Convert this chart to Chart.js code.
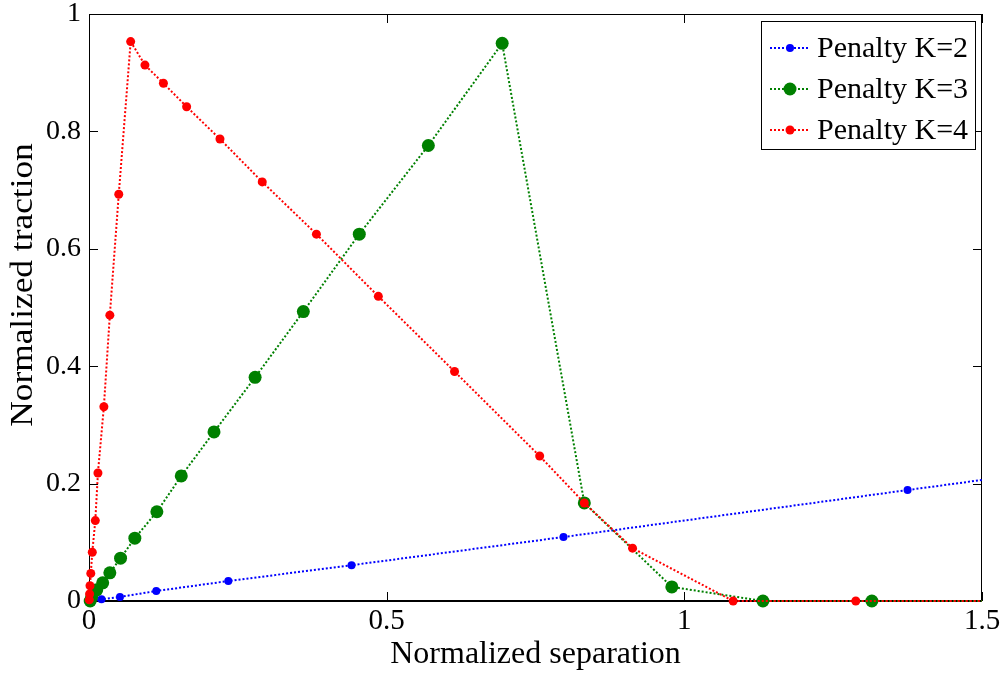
<!DOCTYPE html>
<html>
<head>
<meta charset="utf-8">
<script src="https://cdn.jsdelivr.net/npm/chart.js@4.4.1/dist/chart.umd.min.js"></script>
<style>
  html, body { margin: 0; padding: 0; background: #fff; }
  #wrap { width: 1005px; height: 674px; position: relative; }
</style>
</head>
<body>
<div id="wrap"><canvas id="c"></canvas></div>
<script>
// ---- Data ----
const seriesNames = ["Penalty K=2", "Penalty K=3", "Penalty K=4"];

const k2X = [0.005, 0.021, 0.052, 0.113, 0.234, 0.441, 0.797, 1.375, 2.3];
const k2Y = [0.001, 0.003, 0.007, 0.017, 0.034, 0.061, 0.109, 0.189, 0.316];

const k3X = [0.002, 0.0045, 0.013, 0.023, 0.035, 0.053, 0.077, 0.114, 0.155, 0.210, 0.279, 0.360, 0.454, 0.570, 0.694, 0.832, 0.979, 1.132, 1.315, 1.6];
const k3Y = [0.000, 0.007, 0.019, 0.031, 0.048, 0.073, 0.107, 0.152, 0.213, 0.288, 0.381, 0.493, 0.625, 0.776, 0.950, 0.167, 0.024, 0.000, 0.000, 0.000];

const k4X = [0.0005, 0.001, 0.0017, 0.003, 0.0055, 0.0106, 0.015, 0.025, 0.035, 0.050, 0.070, 0.094, 0.125, 0.164, 0.220, 0.291, 0.382, 0.486, 0.614, 0.757, 0.832, 0.913, 1.082, 1.288, 1.6];
const k4Y = [0.002, 0.012, 0.026, 0.047, 0.083, 0.137, 0.218, 0.331, 0.487, 0.693, 0.953, 0.913, 0.882, 0.842, 0.787, 0.714, 0.625, 0.519, 0.391, 0.247, 0.167, 0.090, 0.000, 0.000, 0.000];

const xTicks = [0, 0.5, 1, 1.5];
const yTicks = [0, 0.2, 0.4, 0.6, 0.8, 1];
const xTickLabels = ["0", "0.5", "1", "1.5"];
const yTickLabels = ["0", "0.2", "0.4", "0.6", "0.8", "1"];

const xTitle = "Normalized separation";
const yTitle = "Normalized traction";

// ---- Styles ----
const FONT = "'Liberation Serif', 'Times New Roman', serif";
const colors = ["#0000ff", "#008000", "#ff0000"];
const radii = [4, 6.5, 4.5];

function pts(xs, ys) { return xs.map((x, i) => ({ x: x, y: ys[i] })); }

const allX = [k2X, k3X, k4X];
const allY = [k2Y, k3Y, k4Y];

const datasets = seriesNames.map((name, i) => ({
  label: name,
  data: pts(allX[i], allY[i]),
  borderColor: colors[i],
  backgroundColor: colors[i],
  pointBackgroundColor: colors[i],
  pointBorderColor: colors[i],
  pointBorderWidth: 0,
  pointRadius: radii[i],
  pointHoverRadius: radii[i],
  borderWidth: 2,
  borderDash: [2, 2],
  tension: 0,
  fill: false,
  order: 3 - i,
  clip: { left: 12, top: 12, right: 0, bottom: 12 }
}));

// Box + inward ticks (MATLAB style)
const boxPlugin = {
  id: 'box',
  beforeDatasetsDraw(chart) {
    const { ctx, chartArea: a, scales } = chart;
    ctx.save();
    ctx.strokeStyle = '#000';
    ctx.lineWidth = 1;
    ctx.strokeRect(a.left + 0.5, a.top + 0.5, a.right - a.left - 1, a.bottom - a.top);
    ctx.lineWidth = 2;
    ctx.beginPath();
    ctx.moveTo(a.left, a.bottom); ctx.lineTo(a.right, a.bottom);
    ctx.stroke();
    ctx.lineWidth = 1;
    const L = 9;
    ctx.beginPath();
    xTicks.forEach(v => {
      const px = Math.round(scales.x.getPixelForValue(v)) + 0.5;
      ctx.moveTo(px, a.bottom); ctx.lineTo(px, a.bottom - L);
      ctx.moveTo(px, a.top); ctx.lineTo(px, a.top + L);
    });
    yTicks.forEach(v => {
      const py = Math.round(scales.y.getPixelForValue(v)) + 0.5;
      ctx.moveTo(a.left, py); ctx.lineTo(a.left + L, py);
      ctx.moveTo(a.right, py); ctx.lineTo(a.right - L, py);
    });
    ctx.stroke();
    ctx.restore();
  }
};

// Y axis title (rotated), placed like the reference
const yTitlePlugin = {
  id: 'yTitle',
  afterDraw(chart) {
    const { ctx } = chart;
    ctx.save();
    ctx.translate(24, 285);
    ctx.rotate(-Math.PI / 2);
    ctx.scale(1.14, 1);
    ctx.font = "31px " + FONT;
    ctx.fillStyle = '#000';
    ctx.textAlign = 'center';
    ctx.textBaseline = 'middle';
    ctx.fillText(yTitle, 0, 0);
    ctx.restore();
  }
};

// Legend box inside plot, top-right
const legendPlugin = {
  id: 'boxLegend',
  afterDatasetsDraw(chart) {
    const { ctx } = chart;
    const bx = 761, by = 21, bw = 214, bh = 128;
    ctx.save();
    ctx.fillStyle = '#fff';
    ctx.fillRect(bx, by, bw, bh);
    ctx.strokeStyle = '#000';
    ctx.lineWidth = 1;
    ctx.strokeRect(bx + 0.5, by + 0.5, bw, bh);
    const rows = [48, 89, 130];
    ctx.font = "30px " + FONT;
    ctx.textBaseline = 'middle';
    ctx.textAlign = 'left';
    seriesNames.forEach((name, i) => {
      const y = rows[i];
      ctx.strokeStyle = colors[i];
      ctx.lineWidth = 2;
      ctx.setLineDash([2, 2]);
      ctx.beginPath();
      ctx.moveTo(770, y); ctx.lineTo(810, y);
      ctx.stroke();
      ctx.setLineDash([]);
      ctx.fillStyle = colors[i];
      ctx.beginPath();
      ctx.arc(790, y, radii[i], 0, Math.PI * 2);
      ctx.fill();
      ctx.fillStyle = '#000';
      ctx.fillText(name, 817, y + 1);
    });
    ctx.restore();
  }
};

Chart.defaults.font.family = FONT;
Chart.defaults.color = '#000';

new Chart(document.getElementById('c'), {
  type: 'line',
  data: { datasets: datasets },
  options: {
    responsive: true,
    maintainAspectRatio: false,
    animation: false,
    events: [],
    layout: { padding: { left: 0, top: 14, right: 23, bottom: 0 } },
    plugins: {
      legend: { display: false },
      tooltip: { enabled: false }
    },
    scales: {
      x: {
        type: 'linear',
        min: 0, max: 1.5,
        afterBuildTicks(scale) { scale.ticks = xTicks.map(v => ({ value: v })); },
        afterFit(scale) { scale.height = 73; scale.paddingLeft = 0; scale.paddingRight = 0; },
        ticks: {
          font: { size: 29 },
          color: '#000',
          padding: 3,
          maxRotation: 0,
          callback(v) { const i = xTicks.indexOf(v); return i >= 0 ? xTickLabels[i] : ''; }
        },
        grid: { display: false, drawTicks: false },
        border: { display: false },
        title: { display: true, text: xTitle, font: { size: 32 }, color: '#000', padding: { top: 0, bottom: 0 } }
      },
      y: {
        type: 'linear',
        min: 0, max: 1,
        afterBuildTicks(scale) { scale.ticks = yTicks.map(v => ({ value: v })); },
        afterFit(scale) { scale.width = 89; scale.paddingTop = 0; scale.paddingBottom = 0; },
        ticks: {
          font: { size: 28 },
          color: '#000',
          padding: 8,
          callback(v) { const i = yTicks.indexOf(v); return i >= 0 ? yTickLabels[i] : ''; }
        },
        grid: { display: false, drawTicks: false },
        border: { display: false },
        title: { display: false }
      }
    }
  },
  plugins: [boxPlugin, legendPlugin, yTitlePlugin]
});
</script>
</body>
</html>
